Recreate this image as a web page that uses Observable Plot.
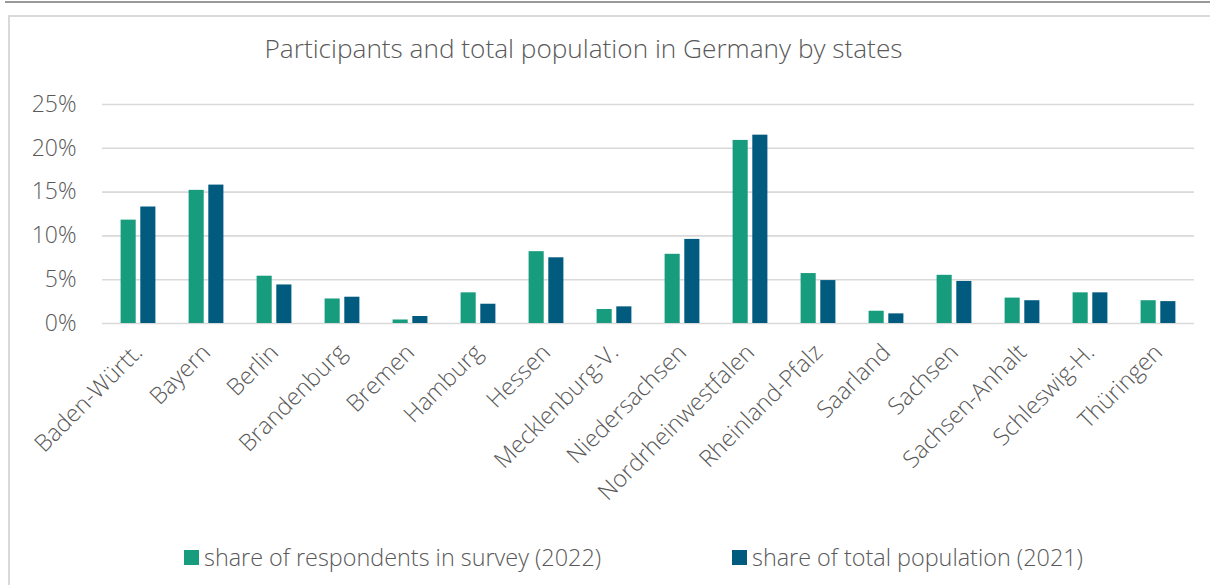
<!DOCTYPE html>
<html>
<head>
<meta charset="utf-8">
<script src="https://cdn.jsdelivr.net/npm/d3@7"></script>
<script src="https://cdn.jsdelivr.net/npm/@observablehq/plot@0.6"></script>
<style>
  html, body { margin: 0; padding: 0; background: #fff; }
  body { width: 1210px; height: 585px; position: relative; overflow: hidden; font-family: "Open Sans", sans-serif; font-weight: 300; color: #595959; }
  #topline { position: absolute; left: 5px; right: 0; top: 1px; height: 2px; background: #9a9a9a; }
  #frame { position: absolute; left: 8px; top: 15px; width: 1220px; height: 600px; border: 2px solid #d9d9d9; box-sizing: border-box; }
  #title { position: absolute; left: 0; width: 1167px; top: 30px; text-align: center; font-size: 26.2px; white-space: nowrap; }
  #chart { position: absolute; left: 0; top: 80px; }
  .leg { position: absolute; top: 543px; font-size: 23.4px; white-space: nowrap; display: flex; align-items: center; height: 28px; }
  .sw { width: 15px; height: 15px; margin-right: 5px; display: inline-block; }
</style>
</head>
<body>
<div id="topline"></div>
<div id="frame"></div>
<div id="title">Participants and total population in Germany by states</div>
<div id="chart"></div>
<div id="legend"></div>
<script>
const states = ["Baden-Württ.", "Bayern", "Berlin", "Brandenburg", "Bremen", "Hamburg", "Hessen", "Mecklenburg-V.", "Niedersachsen", "Nordrheinwestfalen", "Rheinland-Pfalz", "Saarland", "Sachsen", "Sachsen-Anhalt", "Schleswig-H.", "Thüringen"];
const survey2022 = [11.8, 15.2, 5.4, 2.8, 0.4, 3.5, 8.2, 1.6, 7.9, 20.9, 5.7, 1.4, 5.5, 2.9, 3.5, 2.6];
const population2021 = [13.3, 15.8, 4.4, 3.0, 0.8, 2.2, 7.5, 1.9, 9.6, 21.5, 4.9, 1.1, 4.8, 2.6, 3.5, 2.5];
const seriesNames = ["share of respondents in survey (2022)", "share of total population (2021)"];
const seriesColors = ["#179C7D", "#005B7F"];
const yTicks = [0, 5, 10, 15, 20, 25];

const surveyData = states.map((s, i) => ({state: s, value: survey2022[i]}));
const popData = states.map((s, i) => ({state: s, value: population2021[i]}));

const chart = Plot.plot({
  width: 1210,
  height: 450,
  marginLeft: 102,
  marginRight: 16,
  marginTop: 24,
  marginBottom: 207,
  style: {fontFamily: "Open Sans, sans-serif", fontWeight: 300, fontSize: "23px", color: "#595959", background: "transparent", overflow: "visible"},
  x: {type: "band", domain: states, padding: 0, label: null},
  y: {domain: [0, 25], ticks: yTicks, label: null},
  marks: [
    Plot.ruleY(yTicks, {stroke: "#d9d9d9", strokeWidth: 1.6}),
    Plot.barY(surveyData, {x: "state", y: "value", fill: seriesColors[0], insetLeft: 16.6, insetRight: 36.3}),
    Plot.barY(popData, {x: "state", y: "value", fill: seriesColors[1], insetLeft: 36.3, insetRight: 16.6}),
    Plot.axisY({ticks: yTicks, tickSize: 0, tickPadding: 26, tickFormat: d => d + "%", fontSize: 23, fill: "#595959"}),
    Plot.axisX({tickRotate: -45, tickSize: 0, tickPadding: 25, fontSize: 23.5, fill: "#595959", label: null})
  ]
});
document.getElementById("chart").appendChild(chart);

const legend = document.getElementById("legend");
const legX = [184, 732];
seriesNames.forEach((name, i) => {
  const d = document.createElement("div");
  d.className = "leg";
  d.style.left = legX[i] + "px";
  const sw = document.createElement("span");
  sw.className = "sw";
  sw.style.background = seriesColors[i];
  d.appendChild(sw);
  d.appendChild(document.createTextNode(name));
  legend.appendChild(d);
});
</script>
</body>
</html>
